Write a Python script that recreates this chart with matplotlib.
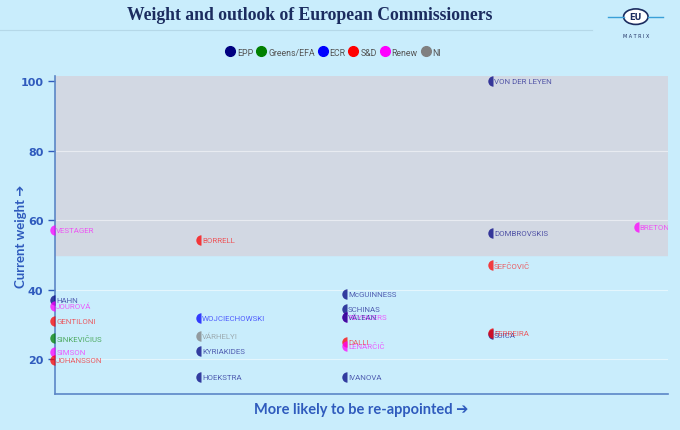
import matplotlib
matplotlib.use('Agg')
from matplotlib import pyplot as plt
from matplotlib.patches import Circle

# commissioners: name, group, outlook column, current weight
names = ['VON DER LEYEN', 'BRETON', 'DOMBROVSKIS', 'ŠEFČOVIČ', 'ŠUICA', 'FERREIRA',
         'VESTAGER', 'HAHN', 'JOUROVÁ', 'GENTILONI', 'SINKEVIČIUS', 'SIMSON', 'JOHANSSON',
         'BORRELL', 'WOJCIECHOWSKI', 'VÁRHELYI', 'KYRIAKIDES', 'HOEKSTRA',
         'McGUINNESS', 'SCHINAS', 'REYNDERS', 'VĂLEAN', 'DALLI', 'LENARČIČ', 'IVANOVA']
groups = ['EPP', 'Renew', 'EPP', 'S&D', 'EPP', 'S&D',
          'Renew', 'EPP', 'Renew', 'S&D', 'Greens/EFA', 'Renew', 'S&D',
          'S&D', 'ECR', 'NI', 'EPP', 'EPP',
          'EPP', 'EPP', 'Renew', 'EPP', 'S&D', 'Renew', 'EPP']
outlook = [4, 5, 4, 4, 4, 4,
           1, 1, 1, 1, 1, 1, 1,
           2, 2, 2, 2, 2,
           3, 3, 3, 3, 3, 3, 3]
weight = [100, 58, 56.3, 47, 27.2, 27.6,
          57.2, 37, 35.3, 30.9, 26, 22, 19.8,
          54.2, 31.9, 26.6, 22.3, 14.8,
          38.7, 34.5, 32.1, 32.1, 24.9, 23.8, 14.8]

legend_groups = ['EPP', 'Greens/EFA', 'ECR', 'S&D', 'Renew', 'NI']
group_colors = {'EPP': '#000080', 'Greens/EFA': '#008000', 'ECR': '#0000ff',
                'S&D': '#ff0000', 'Renew': '#ff00ff', 'NI': '#808080'}

bg = '#c9edfc'
axis_blue = '#2f5bbd'

fig = plt.figure(figsize=(6.8, 4.31), dpi=100, facecolor=bg)
ax = fig.add_axes([0.081, 0.084, 0.901, 0.737])
ax.set_facecolor(bg)

# high weight band
ax.axhspan(50, 101.5, color='#d2d8e3', zorder=0)
for yv in [20, 40, 60, 80]:
    ax.axhline(yv, color='white', lw=0.8, alpha=0.5, zorder=0.5)

for n, g, xv, yv in zip(names, groups, outlook, weight):
    c = group_colors[g]
    ax.plot(xv, yv, marker='o', ms=7.5, color=c, alpha=0.75, fillstyle='left',
            markerfacecoloralt='none', mew=0, clip_on=False, zorder=3)
    ax.text(xv + 0.008, yv, n, fontsize=5.7, color=c, alpha=0.6, va='center',
            ha='left', family='Roboto', clip_on=True, zorder=4)

ax.set_xlim(1, 5.2)
ax.set_ylim(10, 101.5)
ax.set_xticks([])
ax.set_yticks([20, 40, 60, 80, 100])
ax.tick_params(axis='y', colors=axis_blue, labelsize=8, length=5, width=1)
for lab in ax.get_yticklabels():
    lab.set_fontweight('bold')
for s in ['top', 'right']:
    ax.spines[s].set_visible(False)
for s in ['left', 'bottom']:
    ax.spines[s].set_color('#5b86c6')
    ax.spines[s].set_linewidth(1.2)

ax.set_ylabel('Current weight ➔', color=axis_blue, fontsize=9.5, fontweight='bold',
              family=['Lato', 'DejaVu Sans'])
ax.yaxis.set_label_coords(-0.046, 0.5)
ax.set_xlabel('More likely to be re-appointed ➔', color=axis_blue, fontsize=10.5,
              fontweight='bold', family=['Lato', 'DejaVu Sans'], labelpad=6)

# title and rule
fig.text(0.455, 0.963, 'Weight and outlook of European Commissioners', ha='center',
         va='center', fontsize=12.7, fontweight='bold', color='#1b2c5f',
         family='Liberation Serif')
fig.add_artist(plt.Line2D([0.0, 0.87], [0.928, 0.928], color='#b5d8e8', lw=0.8))

# legend
handles = [plt.Line2D([], [], marker='o', ls='', ms=7, color=group_colors[g])
           for g in legend_groups]
fig.legend(handles, legend_groups, loc='center', bbox_to_anchor=(0.49, 0.877),
           ncol=6, frameon=False, handletextpad=0.25, columnspacing=0.35,
           handlelength=1.1, labelcolor='#555555', prop={'family': 'Roboto', 'size': 6.3})

# simple logo
logo = fig.add_axes([0.89, 0.905, 0.09, 0.09])
logo.set_xlim(0, 1)
logo.set_ylim(0, 1)
logo.axis('off')
logo.add_patch(Circle((0.5, 0.6), 0.2, fc='white', ec='#1b2c5f', lw=1.2))
logo.text(0.5, 0.6, 'EU', ha='center', va='center', fontsize=6, fontweight='bold',
          color='#1b2c5f')
logo.plot([0.05, 0.3], [0.6, 0.6], color='#3aa0d8', lw=1)
logo.plot([0.7, 0.95], [0.6, 0.6], color='#3aa0d8', lw=1)
logo.text(0.5, 0.12, 'M A T R I X', ha='center', va='center', fontsize=3.5,
          color='#1b2c5f')

fig.savefig('out.png', dpi=100, facecolor=bg)
